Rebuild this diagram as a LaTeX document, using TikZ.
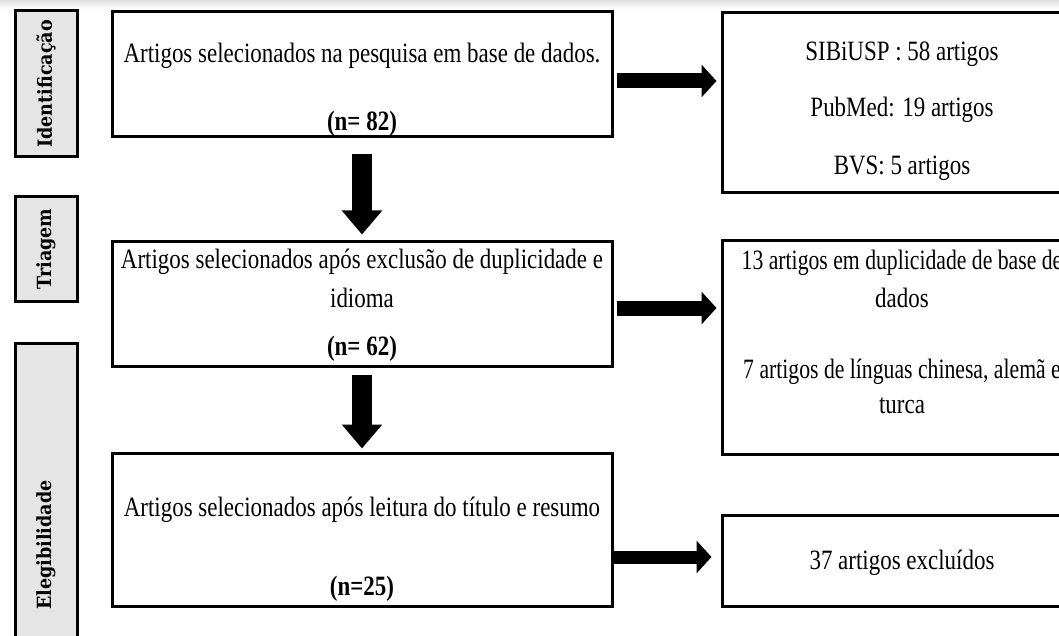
\documentclass[tikz,border=0pt]{standalone}
\usepackage{fontspec}
\setmainfont{Liberation Serif}
\newfontfamily\cond[FakeStretch=0.82]{Liberation Serif}
\newfontfamily\narr[FakeStretch=0.775]{Liberation Serif}
\newfontfamily\sidefont[FakeStretch=0.9]{DejaVu Serif}
\usetikzlibrary{arrows.meta}
\tikzset{
  box/.style={draw=black, line width=3pt, fill=white, inner sep=0pt},
  side/.style={draw=black, line width=3pt, fill=black!10, inner sep=0pt},
  txt/.style={font=\cond\fontsize{28}{32}\selectfont, inner sep=0pt},
  ntxt/.style={font=\narr\fontsize{28}{32}\selectfont, inner sep=0pt},
  btxt/.style={font=\cond\fontsize{28}{32}\selectfont\bfseries, inner sep=0pt},
  stxt/.style={font=\sidefont\fontsize{19.5}{22}\selectfont\bfseries, inner sep=0pt, rotate=90},
  downarrow/.style={line width=20pt, -{Triangle[width=39pt,length=24pt]}},
  rightarrow/.style={line width=15pt, -{Triangle[width=32pt,length=15pt]}}
}
\begin{document}
\begin{tikzpicture}[x=1pt,y=-1pt]
\useasboundingbox (0,0) rectangle (1059,636);
\clip (0,0) rectangle (1059,636);
\shade[top color=black!12, bottom color=white] (0,0) rectangle (1059,9);

% side labels
\node[side, minimum width=62pt, minimum height=146pt] (s1) at (46,84) {};
\node[stxt] (s1t) at (s1.center) {Identificação};
\node[side, minimum width=62pt, minimum height=104pt] (s2) at (46,249) {};
\node[stxt] (s2t) at (s2.center) {Triagem};
\node[side, minimum width=62pt, minimum height=320pt] (s3) at (46,503) {};
\node[stxt] (s3t) at (46,545) {Elegibilidade};

% main boxes
\node[box, minimum width=500pt, minimum height=125pt] (b1) at (362,74.5) {};
\node[txt] (b1a) at (362,56) {Artigos selecionados na pesquisa em base de dados.};
\node[btxt] (b1b) at (362,124) {(n= 82)};

\node[box, minimum width=500pt, minimum height=124pt] (b2) at (362,304) {};
\node[txt] (b2a) at (362,262) {Artigos selecionados após exclusão de duplicidade e};
\node[txt] (b2b) at (362,298) {idioma};
\node[btxt] (b2c) at (362,349) {(n= 62)};

\node[box, minimum width=500pt, minimum height=153pt] (b3) at (362,529.5) {};
\node[txt] (b3a) at (362,510) {Artigos selecionados após leitura do título e resumo};
\node[btxt] (b3b) at (362,589) {(n=25)};

% right boxes
\node[box, minimum width=360pt, minimum height=180pt] (r1) at (902,103) {};
\node[txt] (r1a) at (902,54) {SIBiUSP : 58 artigos};
\node[txt] (r1b) at (902,110) {PubMed: 19 artigos};
\node[txt] (r1c) at (902,168) {BVS: 5 artigos};

\node[box, minimum width=360pt, minimum height=213pt] (r2) at (902,347.5) {};
\node[ntxt] (r2a) at (902,263) {13 artigos em duplicidade de base de};
\node[txt] (r2b) at (902,298) {dados};
\node[ntxt] (r2c) at (902,372) {7 artigos de línguas chinesa, alemã e};
\node[txt] (r2d) at (902,406) {turca};

\node[box, minimum width=360pt, minimum height=91pt] (r3) at (902,560.5) {};
\node[txt] (r3a) at (902,563) {37 artigos excluídos};

% arrows
\draw[downarrow, shorten <=16pt, shorten >=6pt] (b1.south) -- (b2.north);
\draw[downarrow, shorten <=7pt, shorten >=3pt] (b2.south) -- (b3.north);
\draw[rightarrow, shorten <=3pt, shorten >=4pt] ([yshift=-6.5pt]b1.east) -- ([yshift=22pt]r1.west);
\draw[rightarrow, shorten <=3pt, shorten >=4pt] ([yshift=-4pt]b2.east) -- ([yshift=39.5pt]r2.west);
\draw[rightarrow, line width=13pt, shorten >=9pt] ([yshift=-27.5pt]b3.east) -- ([yshift=3.5pt]r3.west);
\end{tikzpicture}
\end{document}
